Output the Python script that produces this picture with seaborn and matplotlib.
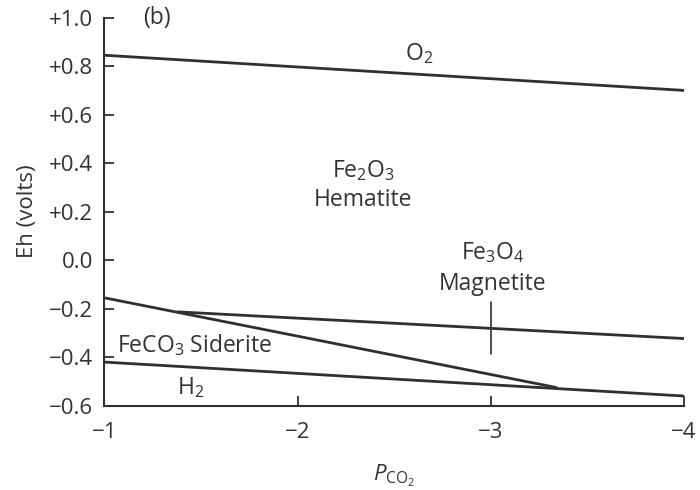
import pandas as pd
import matplotlib
matplotlib.use("Agg")
import matplotlib.pyplot as plt
import seaborn as sns

# Stability boundaries (log P_CO2 vs Eh, volts)
o2_x = [-1, -4]
o2_eh = [0.845, 0.70]
siderite_x = [-1, -3.34]
siderite_eh = [-0.155, -0.525]
magnetite_x = [-1.38, -4]
magnetite_eh = [-0.213, -0.323]
h2_x = [-1, -4]
h2_eh = [-0.42, -0.56]
marker_x = [-3, -3]
marker_eh = [-0.172, -0.385]

x_ticks = [-1, -2, -3, -4]
x_labels = ["\u22121", "\u22122", "\u22123", "\u22124"]
y_ticks = [1.0, 0.8, 0.6, 0.4, 0.2, 0.0, -0.2, -0.4, -0.6]
y_labels = ["+1.0", "+0.8", "+0.6", "+0.4", "+0.2", "0.0", "\u22120.2", "\u22120.4", "\u22120.6"]

sns.set_theme(style="ticks")
plt.rcParams['font.family'] = ['Open Sans', 'DejaVu Sans']
plt.rcParams['mathtext.fontset'] = 'custom'
plt.rcParams['mathtext.rm'] = 'Open Sans'
plt.rcParams['mathtext.it'] = 'Open Sans:italic'

fig = plt.figure(figsize=(7, 4.9), dpi=100)
ax = fig.add_axes([0.149, 0.172, 0.828, 0.792])

line_col = "#303030"
segments = [(o2_x, o2_eh), (siderite_x, siderite_eh), (magnetite_x, magnetite_eh),
            (h2_x, h2_eh), (marker_x, marker_eh)]
for xs, ys in segments:
    df = pd.DataFrame({"logp": xs, "eh": ys})
    sns.lineplot(data=df, x="logp", y="eh", ax=ax, color=line_col, lw=2 if xs != marker_x else 1.2,
                 sort=False, estimator=None)

ax.set_xlim(-1, -4)
ax.set_ylim(-0.6, 1.0)
ax.set_xticks(x_ticks)
ax.set_xticklabels(x_labels, fontsize=16, color="#333")
ax.set_yticks(y_ticks)
ax.set_yticklabels(y_labels, fontsize=16, color="#333")
ax.tick_params(direction="in", length=7, width=1.3, color=line_col)
ax.tick_params(axis="y", pad=8)
ax.tick_params(axis="x", pad=12)
sns.despine(ax=ax)
for s in ["left", "bottom"]:
    ax.spines[s].set_color(line_col)
    ax.spines[s].set_linewidth(1.5)

ax.set_ylabel("Eh (volts)", fontsize=16, color="#333", labelpad=8)
ax.set_xlabel(r"$P_{\mathrm{CO_2}}$", fontsize=16, color="#333", labelpad=14)

tc = "#333"
fs = 16.5
ax.text(-1.27, 1.0, "(b)", fontsize=fs, color=tc, ha="center", va="center")
ax.text(-2.63, 0.85, r"O$_2$", fontsize=fs, color=tc, ha="center", va="center")
ax.text(-2.34, 0.37, r"Fe$_2$O$_3$", fontsize=fs, color=tc, ha="center", va="center")
ax.text(-2.34, 0.25, "Hematite", fontsize=fs, color=tc, ha="center", va="center")
ax.text(-3.01, 0.03, r"Fe$_3$O$_4$", fontsize=fs, color=tc, ha="center", va="center")
ax.text(-3.01, -0.10, "Magnetite", fontsize=fs, color=tc, ha="center", va="center")
ax.text(-1.065, -0.35, r"FeCO$_3$ Siderite", fontsize=fs, color=tc, ha="left", va="center")
ax.text(-1.445, -0.525, r"H$_2$", fontsize=fs, color=tc, ha="center", va="center")

plt.savefig("out.png", dpi=100)
